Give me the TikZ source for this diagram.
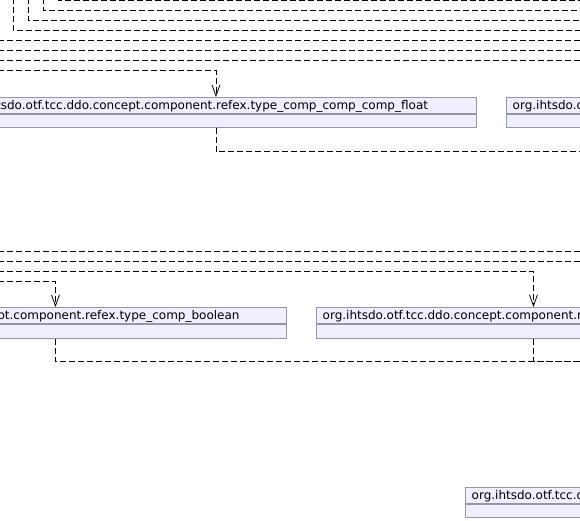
\documentclass[tikz,border=0pt]{standalone}
\usepackage{fontspec}
\setmainfont{DejaVu Sans}
\usetikzlibrary{arrows.meta,calc}
\definecolor{boxline}{RGB}{150,150,170}
\definecolor{boxfill}{RGB}{238,238,252}
\begin{document}
\begin{tikzpicture}[x=1pt,y=-1pt,
  cls/.style={draw=boxline, fill=boxfill, line width=0.9pt, inner sep=0pt, anchor=north west},
  lbl/.style={inner sep=0pt, anchor=base west, font=\fontsize{12}{14}\selectfont},
  dep/.style={draw=black, line width=0.8pt, dash pattern=on 6pt off 3pt},
  arr/.style={-{Straight Barb[length=11pt,width=8pt]}}
]
\useasboundingbox (0,0) rectangle (580,521);
\clip (0,0) rectangle (580,521);

% class boxes
\node[cls, minimum width=521pt, minimum height=16pt] (b1) at (-45,97) {};
\node[cls, minimum width=521pt, minimum height=13pt] (b1a) at (b1.south west) {};
\node[lbl] (b1t) at ($(b1.north west)+(6.5,12.5)$) {org.ihtsdo.otf.tcc.ddo.concept.component.refex.type\_comp\_comp\_comp\_float};

\node[cls, minimum width=460pt, minimum height=16pt] (b2) at (506,97) {};
\node[cls, minimum width=460pt, minimum height=13pt] (b2a) at (b2.south west) {};
\node[lbl] (b2t) at ($(b2.north west)+(6.5,12.5)$) {org.ihtsdo.otf.tcc.ddo.concept.component.refex};

\node[cls, minimum width=462pt, minimum height=16pt] (b3) at (-176,307) {};
\node[cls, minimum width=462pt, minimum height=14pt] (b3a) at (b3.south west) {};
\node[lbl] (b3t) at ($(b3.north west)+(6.5,12.5)$) {org.ihtsdo.otf.tcc.ddo.concept.component.refex.type\_comp\_boolean};

\node[cls, minimum width=434pt, minimum height=16pt] (b4) at (316,307) {};
\node[cls, minimum width=434pt, minimum height=14pt] (b4a) at (b4.south west) {};
\node[lbl] (b4t) at ($(b4.north west)+(6.5,12.5)$) {org.ihtsdo.otf.tcc.ddo.concept.component.refex};

\node[cls, minimum width=400pt, minimum height=16pt] (b5) at (465,487) {};
\node[cls, minimum width=400pt, minimum height=13pt] (b5a) at (b5.south west) {};
\node[lbl] (b5t) at ($(b5.north west)+(6.5,12.5)$) {org.ihtsdo.otf.tcc.ddo.concept};

% free ends
\coordinate (t1) at (58,-20);  \coordinate (r1) at (620,0.5);
\coordinate (t2) at (43,-20);  \coordinate (r2) at (620,10.5);
\coordinate (t3) at (28,-20);  \coordinate (r3) at (620,20.5);
\coordinate (t4) at (13,-20);  \coordinate (r4) at (620,30.5);
\coordinate (l5) at (-20,40.5); \coordinate (r5) at (620,40.5);
\coordinate (l6) at (-20,50.5); \coordinate (r6) at (620,50.5);
\coordinate (l7) at (-20,60.5); \coordinate (r7) at (620,60.5);
\coordinate (l8) at (-20,70.5);
\coordinate (r9) at (620,151.5);
\coordinate (l10) at (-20,251.5); \coordinate (r10) at (620,251.5);
\coordinate (l11) at (-20,261.5); \coordinate (r11) at (620,261.5);
\coordinate (l12) at (-20,271.5);
\coordinate (l13) at (-20,281.5);
\coordinate (r14) at (620,361);

% connectors
\draw[dep] (t1) |- (r1);
\draw[dep] (t2) |- (r2);
\draw[dep] (t3) |- (r3);
\draw[dep] (t4) |- (r4);
\draw[dep] (l5) -- (r5);
\draw[dep] (l6) -- (r6);
\draw[dep] (l7) -- (r7);
\draw[dep,arr] (l8) -| (b1.north);
\draw[dep] (b1a.south) |- (r9);
\draw[dep] (l10) -- (r10);
\draw[dep] (l11) -- (r11);
\draw[dep,arr] (l12) -| (b4.north);
\draw[dep,arr] (l13) -| (b3.north);
\draw[dep] (b3a.south) |- (r14);
\draw[dep] (b4a.south) |- (r14);
\end{tikzpicture}
\end{document}
